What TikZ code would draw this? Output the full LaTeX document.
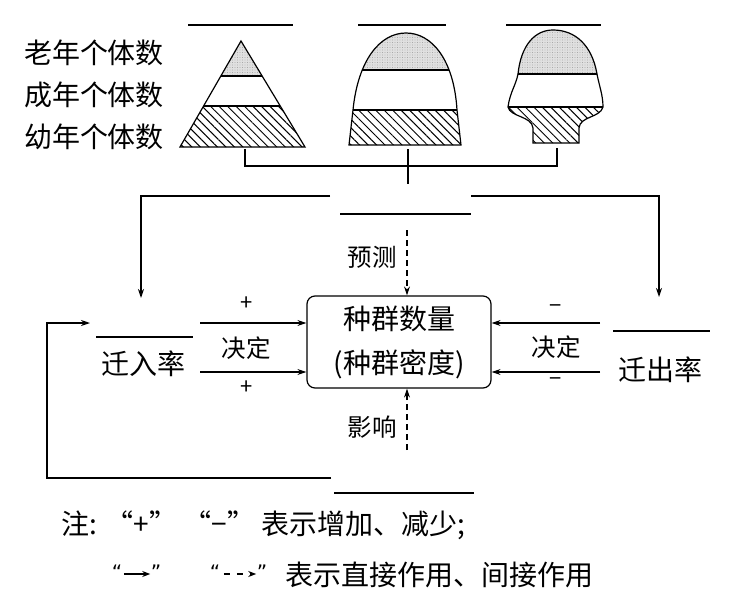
\documentclass[tikz,border=0pt]{standalone}
\usepackage{fontspec}
\setmainfont{Noto Sans CJK SC}
\newfontfamily\symfont{DejaVu Sans}
\usetikzlibrary{arrows.meta,patterns.meta}
\begin{document}
\begin{tikzpicture}[x=1pt,y=-1pt,line width=1.2pt,
  big/.style={font=\fontsize{28}{44}\selectfont,inner sep=0pt},
  mid/.style={font=\fontsize{24.5}{28}\selectfont,inner sep=0pt},
  sgn/.style={font=\fontsize{22}{24}\selectfont,inner sep=0pt},
  qt/.style={font=\fontsize{20}{24}\selectfont\symfont,inner sep=0pt},
  arr/.style={-{Stealth[length=9pt,width=6pt]}},
  sarr/.style={line width=1.3pt,-{Stealth[length=8pt,width=6pt]}},
  dsh/.style={dash pattern=on 6pt off 4pt},
  sdsh/.style={dash pattern=on 6pt off 7pt},
  stip/.style={fill=black!12,postaction={pattern={Dots[distance=2.5pt,radius=0.45pt]},pattern color=black!45}},
  hatch/.style={pattern={Lines[angle=-45,distance=6pt,line width=1pt]}}]
\useasboundingbox (0,0) rectangle (732,600);

% left labels
\node[big] (old) at (94,53) {老年个体数};
\node[big] (adult) at (94,95) {成年个体数};
\node[big] (young) at (94,137) {幼年个体数};

% blanks above pyramids
\coordinate (b1a) at (188,25); \coordinate (b1b) at (293,25);
\coordinate (b2a) at (358,25); \coordinate (b2b) at (446,25);
\coordinate (b3a) at (506,25); \coordinate (b3b) at (601,25);
\draw (b1a) -- (b1b); \draw (b2a) -- (b2b); \draw (b3a) -- (b3b);

% pyramid 1 (triangle)
\begin{scope}
  \clip (241,41) -- (305,147) -- (180,147) -- cycle;
  \fill[stip] (170,30) rectangle (320,76);
  \fill[hatch] (170,106) rectangle (320,150);
  \draw (170,76) -- (320,76) (170,106) -- (320,106);
\end{scope}
\draw[line join=miter] (241,41) -- (305,147) -- (180,147) -- cycle;

% pyramid 2 (bell)
\begin{scope}
  \clip (349,145) -- (353,110) .. controls (358,60) and (380,33) .. (406,33)
        .. controls (432,33) and (454,60) .. (457,110) -- (461,145) -- cycle;
  \fill[stip] (340,25) rectangle (470,70);
  \fill[hatch] (340,110) rectangle (470,150);
  \draw (340,70) -- (470,70) (340,110) -- (470,110);
\end{scope}
\draw (349,145) -- (353,110) .. controls (358,60) and (380,33) .. (406,33)
      .. controls (432,33) and (454,60) .. (457,110) -- (461,145) -- cycle;

% pyramid 3 (urn)
\begin{scope}
  \clip (508,107) .. controls (510,92) and (516,85) .. (518,74)
        .. controls (521,45) and (535,30) .. (553,30)
        .. controls (575,30) and (592,45) .. (597,74)
        .. controls (599,85) and (603,95) .. (603,107)
        .. controls (600,118) and (580,116) .. (579,128) -- (579,143) -- (533,143) -- (533,128)
        .. controls (532,116) and (510,117) .. (508,107) -- cycle;
  \fill[stip] (500,20) rectangle (610,74);
  \fill[hatch] (500,107) rectangle (610,150);
  \draw (500,74) -- (610,74) (500,107) -- (610,107);
\end{scope}
\draw (508,107) .. controls (510,92) and (516,85) .. (518,74)
      .. controls (521,45) and (535,30) .. (553,30)
      .. controls (575,30) and (592,45) .. (597,74)
      .. controls (599,85) and (603,95) .. (603,107)
      .. controls (600,118) and (580,116) .. (579,128) -- (579,143) -- (533,143) -- (533,128)
      .. controls (532,116) and (510,117) .. (508,107) -- cycle;

% bracket under pyramids
\coordinate (k1) at (245,149); \coordinate (k3) at (557,148);
\coordinate (kc) at (408,149); \coordinate (kd) at (408,184);
\draw (k1) -- (k1 |- 0,166) -- (k3 |- 0,166) -- (k3);
\draw (kc) -- (kd);

% central box
\node[draw,rounded corners=8pt,minimum width=184pt,minimum height=92pt,
      align=center,big] (box) at (399,342) {种群数量\\(种群密度)};

% in / out rates
\node[big] (in) at (143,364) {迁入率};
\node[big] (out) at (660,370) {迁出率};
\coordinate (bi1) at (96,337); \coordinate (bi2) at (193,337);
\coordinate (bo1) at (613,331); \coordinate (bo2) at (710,331);
\draw (bi1) -- (bi2); \draw (bo1) -- (bo2);

% upper split line with arrows to the rates
\coordinate (sl) at (330,196); \coordinate (sr) at (471,196);
\coordinate (tl) at (141,298); \coordinate (tr) at (659,297);
\draw[arr] (sl) -- (sl -| tl) -- (tl);
\draw[arr] (sr) -- (sr -| tr) -- (tr);
\coordinate (bp1) at (340,214); \coordinate (bp2) at (471,214);
\draw (bp1) -- (bp2);

% predict
\node[mid] (pred) at (372,257) {预测};
\coordinate (pd) at (407,230);
\draw[arr,dsh] (pd) -- (pd |- box.north);

% influence
\node[mid] (infl) at (372,427) {影响};
\coordinate (id) at (407,450);
\draw[arr,dsh] (id) -- (id |- box.south);

% arrows into box
\coordinate (la1) at (200,323); \coordinate (la2) at (200,372);
\coordinate (ra1) at (600,323); \coordinate (ra2) at (600,372);
\draw[arr] (la1) -- (la1 -| box.west);
\draw[arr] (la2) -- (la2 -| box.west);
\draw[arr] (ra1) -- (ra1 -| box.east);
\draw[arr] (ra2) -- (ra2 -| box.east);
\node[sgn] (p1) at (247,304) {+};
\node[sgn] (p2) at (247,388) {+};
\node[mid] (d1) at (246,348) {决定};
\node[sgn] (m1) at (556,309) {−};
\node[sgn] (m2) at (556,382) {−};
\node[mid] (d2) at (556,347) {决定};

% feedback loop
\coordinate (fb) at (331,478); \coordinate (fc) at (47,478);
\coordinate (fe) at (90,323);
\draw[arr] (fb) -- (fc) -- (fc |- fe) -- (fe);
\coordinate (bb1) at (334,493); \coordinate (bb2) at (474,493);
\draw (bb1) -- (bb2);

% legend
\node[big,anchor=west] (note1) at (61,525) {注: “+”\ “−” 表示增加、减少;};
\node[qt] (q1) at (117,572) {“};
\node[qt] (q2) at (156,572) {”};
\draw[sarr] (q1.east) ++(1,2) coordinate (qa) -- (qa -| q2.west);
\node[qt] (q3) at (215,572) {“};
\node[qt] (q4) at (262,572) {”};
\draw[sarr,sdsh] (q3.east) ++(3,2) coordinate (qb) -- (qb -| q4.west);
\node[big,anchor=west] (note2) at (285,575) {表示直接作用、间接作用};
\end{tikzpicture}
\end{document}
